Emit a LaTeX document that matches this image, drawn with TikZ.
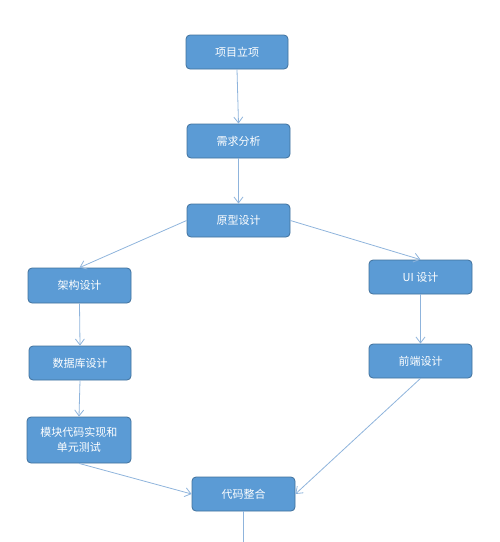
\documentclass[tikz,border=0pt]{standalone}
\usepackage{fontspec}
\newfontfamily\cjk{Noto Sans CJK SC}
\usetikzlibrary{arrows.meta}
\definecolor{boxfill}{HTML}{5B9BD5}
\definecolor{boxline}{HTML}{41719C}
\definecolor{arr}{HTML}{8FB4DC}
\begin{document}
\begin{tikzpicture}[x=1pt,y=-1pt,
  box/.style={draw=boxline, line width=0.8pt, fill=boxfill, rounded corners=4pt, text=white, font=\cjk\fontsize{11}{15}\selectfont, align=center, inner sep=0pt},
  conn/.style={draw=arr, line width=0.8pt, -{Straight Barb[length=6pt,width=9pt]}}]
\useasboundingbox (0,0) rectangle (500,542);
\node[box, minimum width=102pt, minimum height=34pt] (a) at (237,52) {项目立项};
\node[box, minimum width=103pt, minimum height=34pt] (b) at (238.5,141) {需求分析};
\node[box, minimum width=103pt, minimum height=33pt] (c) at (238.5,220.5) {原型设计};
\node[box, minimum width=103pt, minimum height=35pt] (d) at (79.5,285.5) {架构设计};
\node[box, minimum width=102pt, minimum height=34pt] (e) at (80,363) {数据库设计};
\node[box, minimum width=104pt, minimum height=46pt] (f) at (79,440) {模块代码实现和\\单元测试};
\node[box, minimum width=103pt, minimum height=34pt] (g) at (243.5,494) {代码整合};
\node[box, minimum width=103pt, minimum height=34pt] (h) at (420.5,277) {UI 设计};
\node[box, minimum width=103pt, minimum height=34pt] (i) at (420.5,361) {前端设计};
\coordinate (end) at (243.5,542);
\draw[conn] (a.south) -- (b.north);
\draw[conn] (b.south) -- (c.north);
\draw[conn] (c.west) -- (d.north);
\draw[conn] (c.east) -- (h.north);
\draw[conn] (d.south) -- (e.north);
\draw[conn] (e.south) -- (f.north);
\draw[conn] (h.south) -- (i.north);
\draw[conn] (f.south) -- (g.west);
\draw[conn] (i.south) -- (g.east);
\draw[draw=arr, line width=0.8pt] (g.south) -- (end);
\end{tikzpicture}
\end{document}
